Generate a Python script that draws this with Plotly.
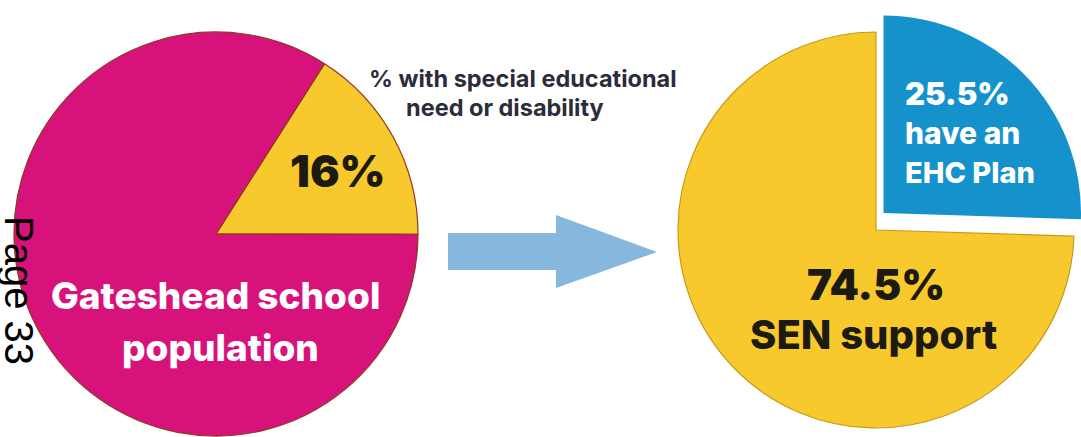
import plotly.graph_objects as go

# ---- data ----
left_labels = ["% with special educational need or disability", "Gateshead school population"]
left_values = [16, 84]
right_labels = ["have an EHC Plan", "SEN support"]
right_values = [25.5, 74.5]

W, H = 1081, 437
MAGENTA = "#d8127b"
YELLOW = "#f7c92c"
BLUE = "#1592cb"
ARROW = "#86b8de"
CLEAR = "rgba(0,0,0,0)"
HEAVY = "Inter"


def px(x):
    return x / W


def py(y):
    return 1 - y / H


def dom(cx, cy, r):
    x0, x1 = max(cx - r, 0), min(cx + r, W)
    y0, y1 = max(cy - r, 0), min(cy + r, H)
    return dict(x=[px(x0), px(x1)], y=[py(y1), py(y0)])


fig = go.Figure()

# left pie
fig.add_trace(go.Pie(
    labels=left_labels, values=left_values, sort=False, direction="clockwise",
    rotation=32.5, textinfo="none", hoverinfo="label+percent",
    marker=dict(colors=[YELLOW, MAGENTA], line=dict(color="#8c3a1e", width=1.2)),
    domain=dom(216, 234, 202), showlegend=False,
))

# right pie: SEN support part
fig.add_trace(go.Pie(
    labels=right_labels, values=right_values, sort=False, direction="clockwise",
    rotation=0, textinfo="none", hoverinfo="label+percent",
    marker=dict(colors=[CLEAR, YELLOW], line=dict(color=[CLEAR, "#c99a1c"], width=1.2)),
    domain=dom(876, 230, 198), showlegend=False,
))

# right pie: EHC plan part (pulled out)
fig.add_trace(go.Pie(
    labels=right_labels, values=right_values, sort=False, direction="clockwise",
    rotation=0, textinfo="none", hoverinfo="label+percent",
    marker=dict(colors=[BLUE, CLEAR], line=dict(color=[CLEAR, CLEAR], width=0)),
    domain=dom(884, 213, 198), showlegend=False,
))

# arrow
arrow_pts = [(448, 233), (556, 233), (556, 215), (657, 252), (556, 288), (556, 270), (448, 270)]
path = "M " + " L ".join(f"{px(x):.5f},{py(y):.5f}" for x, y in arrow_pts) + " Z"
fig.add_shape(type="path", path=path, xref="paper", yref="paper",
              fillcolor=ARROW, line=dict(width=0), layer="above")


def ann(text, x, y, size, color, weight=800, xanchor="center", family=HEAVY, **kw):
    fig.add_annotation(text=text, x=px(x), y=py(y), xref="paper", yref="paper",
                       xanchor=xanchor, yanchor="middle", showarrow=False,
                       font=dict(family=family, size=size, color=color, weight=weight), **kw)


DARK = "#1d1a12"
ann(f"{left_values[0]}%", 338, 171, 44, DARK, 900)
ann("% with special educational", 523, 79, 23.5, "#2c2c3a", 700)
ann("need or disability", 505, 107, 23.5, "#2c2c3a", 700)
ann("Gateshead school", 215, 295, 37, "white", 800)
ann("population", 220, 347, 37, "white", 800)

ann(f"{right_values[1]}%", 876, 284, 42, DARK, 900)
ann("SEN support", 873, 334, 40, DARK, 800)
ann(f"{right_values[0]}%", 903, 94, 31, "white", 900, xanchor="left")
ann("have an", 903, 133, 30, "white", 800, xanchor="left")
ann("EHC Plan", 903, 173, 29, "white", 800, xanchor="left")

# page number
fig.add_annotation(text="Page 33", x=px(43), y=py(290), xref="paper", yref="paper",
                   xanchor="right", yanchor="middle", showarrow=False, textangle=90,
                   font=dict(family="Liberation Sans", size=40, color="black"))

fig.update_layout(
    width=W, height=H, margin=dict(l=0, r=0, t=0, b=0),
    paper_bgcolor="white", plot_bgcolor="white",
)

fig.write_html("out.html")
